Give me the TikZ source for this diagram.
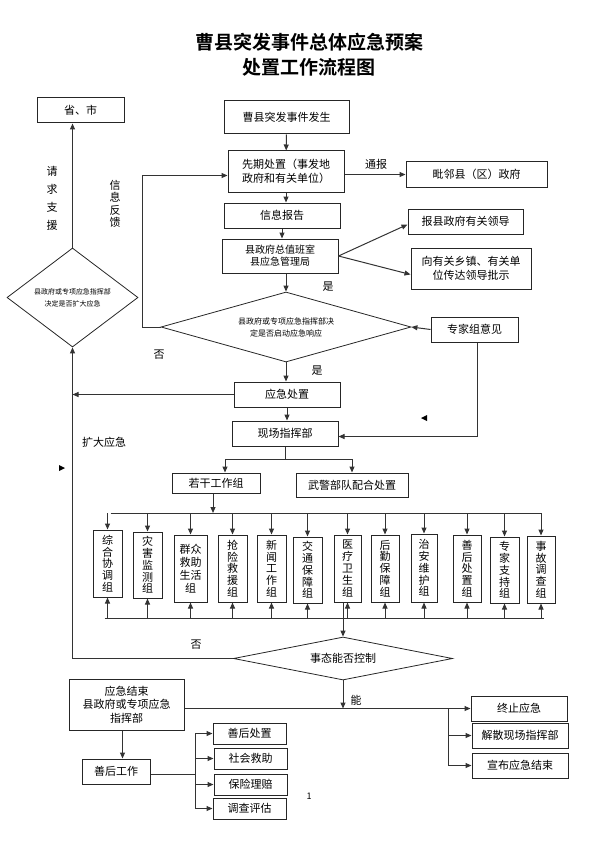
\documentclass[tikz,border=0pt]{standalone}
\usepackage{fontspec}
\setmainfont{Noto Sans CJK SC}[BoldFont={Noto Sans CJK SC Bold}]
\usetikzlibrary{shapes.geometric,arrows.meta}

\begin{document}
\begin{tikzpicture}[x=1pt,y=-1pt,
		box/.style={draw=black!85,line width=1pt,inner sep=1pt,align=center,font=\fontsize{11}{13.5}\selectfont},
		vbox/.style={box,font=\fontsize{11}{11.8}\selectfont},
		choice/.style={draw=black!85,line width=0.8pt,shape=diamond,inner sep=0pt,align=center},
		lbl/.style={font=\fontsize{11}{13}\selectfont},
		arr/.style={-{Triangle[length=6pt,width=5pt]},line width=1pt,draw=black!80},
		ln/.style={line width=1pt,draw=black!80}]
			\useasboundingbox (0,0) rectangle (592,845);

			% title
			\node[font=\bfseries\fontsize{19}{22}\selectfont] (title1) at (309,42) {曹县突发事件总体应急预案};
			\node[font=\bfseries\fontsize{19}{22}\selectfont] (title2) at (309,67) {处置工作流程图};

			% upper part
			\node[box,minimum width=87pt,minimum height=25pt] (sheng) at (80.5,110.5) {省、市};
			\node[box,minimum width=125pt,minimum height=33pt] (start) at (286.5,117.5) {曹县突发事件发生};
			\node[box,minimum width=116pt,minimum height=41pt] (pre) at (286,171.5) {先期处置（事发地\\政府和有关单位）};
			\node[box,minimum width=141pt,minimum height=25pt] (nbr) at (476.5,174.5) {毗邻县（区）政府};
			\node[box,minimum width=116pt,minimum height=25pt] (report) at (282,215.5) {信息报告};
			\node[box,minimum width=116pt,minimum height=34pt,font=\fontsize{10}{12}\selectfont] (duty) at (280,256) {县政府总值班室\\县应急管理局};
			\node[box,minimum width=115pt,minimum height=25pt] (lead) at (465.5,221.5) {报县政府有关领导};
			\node[box,minimum width=120pt,minimum height=41pt] (town) at (471,268.5) {向有关乡镇、有关单\\位传达领导批示};
			\node[choice,minimum width=250pt,minimum height=70pt,aspect=3.57,font=\fontsize{8}{12}\selectfont] (dec) at (286,327) {县政府或专项应急指挥部决\\定是否启动应急响应};
			\node[choice,minimum width=131pt,minimum height=99pt,aspect=1.32,font=\fontsize{7}{12}\selectfont] (expand) at (72.5,297.5) {县政府或专项应急指挥部\\决定是否扩大应急};
			\node[box,minimum width=87pt,minimum height=25pt] (expert) at (474.5,329.5) {专家组意见};
			\node[box,minimum width=106pt,minimum height=25pt] (respond) at (287,394.5) {应急处置};
			\node[box,minimum width=106pt,minimum height=25pt] (field) at (285,433.5) {现场指挥部};
			\node[box,minimum width=88pt,minimum height=20pt] (groups) at (216,483) {若干工作组};
			\node[box,minimum width=112pt,minimum height=24pt] (armed) at (352,485) {武警部队配合处置};

			% working groups
			\node[vbox,minimum width=29pt,minimum height=67pt] (g1) at (107.5,563.5) {综\\合\\协\\调\\组};
			\node[vbox,minimum width=29pt,minimum height=66pt] (g2) at (147.5,565) {灾\\害\\监\\测\\组};
			\node[vbox,minimum width=33pt,minimum height=67pt,font=\fontsize{11}{13}\selectfont] (g3) at (190.5,568.5) {群众\\救助\\生活\\组};
			\node[vbox,minimum width=29pt,minimum height=67pt] (g4) at (232.5,568.5) {抢\\险\\救\\援\\组};
			\node[vbox,minimum width=29pt,minimum height=67pt] (g5) at (271.5,568.5) {新\\闻\\工\\作\\组};
			\node[vbox,minimum width=29pt,minimum height=66pt] (g6) at (307.5,570) {交\\通\\保\\障\\组};
			\node[vbox,minimum width=27pt,minimum height=67pt] (g7) at (347.5,568.5) {医\\疗\\卫\\生\\组};
			\node[vbox,minimum width=28pt,minimum height=67pt] (g8) at (385,568.5) {后\\勤\\保\\障\\组};
			\node[vbox,minimum width=26pt,minimum height=68pt] (g9) at (424,568) {治\\安\\维\\护\\组};
			\node[vbox,minimum width=28pt,minimum height=67pt] (g10) at (467,568.5) {善\\后\\处\\置\\组};
			\node[vbox,minimum width=29pt,minimum height=66pt] (g11) at (504.5,570) {专\\家\\支\\持\\组};
			\node[vbox,minimum width=28pt,minimum height=67pt] (g12) at (541,569.5) {事\\故\\调\\查\\组};

			% lower part
			\node[choice,minimum width=219pt,minimum height=43pt,aspect=5,font=\fontsize{11}{13}\selectfont] (ctrl) at (343,658.5) {事态能否控制};
			\node[box,minimum width=115pt,minimum height=51pt] (finish) at (126.5,704.5) {应急结束\\县政府或专项应急\\指挥部};
			\node[box,minimum width=96pt,minimum height=25pt] (stop) at (519,708.5) {终止应急};
			\node[box,minimum width=96pt,minimum height=25pt] (dissolve) at (520,735.5) {解散现场指挥部};
			\node[box,minimum width=96pt,minimum height=25pt] (announce) at (520,765.5) {宣布应急结束};
			\node[box,minimum width=68pt,minimum height=25pt] (after) at (116,771.5) {善后工作};
			\node[box,minimum width=73pt,minimum height=21pt] (a1) at (249.5,733.5) {善后处置};
			\node[box,minimum width=73pt,minimum height=21pt] (a2) at (250.5,758.5) {社会救助};
			\node[box,minimum width=73pt,minimum height=21pt] (a3) at (250.5,784.5) {保险理赔};
			\node[box,minimum width=73pt,minimum height=21pt] (a4) at (249.5,808.5) {调查评估};

			% labels
			\node[lbl,align=center,font=\fontsize{11}{18}\selectfont] (askhelp) at (52,198) {请\\求\\支\\援};
			\node[lbl,align=center,font=\fontsize{11}{12.5}\selectfont] (feedback) at (115,204) {信\\息\\反\\馈};
			\node[lbl] (notify) at (376,164) {通报};
			\node[lbl] (yes1) at (328,287) {是};
			\node[lbl] (no1) at (159,355) {否};
			\node[lbl] (yes2) at (317,371) {是};
			\node[lbl] (widen) at (104,442) {扩大应急};
			\node[lbl] (no2) at (196,645) {否};
			\node[lbl] (can) at (356,700) {能};
			\node[font=\fontsize{9}{11}\selectfont] (page) at (309,796) {1};

			% connectors, upper part
			\draw[arr] (expand.north) -- (expand.north |- sheng.south);
			\draw[arr] (start) -- (pre);
			\draw[arr] (pre.east |- nbr.west) -- (nbr.west);
			\draw[arr] (dec.west) -- ++(-18,0) |- ([yshift=-4pt]pre.west);
			\draw[arr] (pre.south) -- (pre.south |- report.north);
			\draw[arr] (report.south) -- (report.south |- duty.north);
			\draw[arr] (duty.east) -- ([yshift=-3pt]lead.west);
			\draw[arr] (duty.east) -- ([yshift=-6pt]town.west);
			\draw[arr] (dec.north |- duty.south) -- (dec.north);
			\draw[arr] (expert.west) -- (dec.east);
			\draw[arr] (dec.south) -- (dec.south |- respond.north);
			\draw[arr] (respond.west) -- (respond.west -| expand.south);
			\draw[arr] (respond.south) -- (respond.south |- field.north);
			\draw[arr] ([xshift=3pt]expert.south) |- ([yshift=-3pt]field.east);
			\draw[arr] (ctrl.west) -| (expand.south);

			% connectors to the groups
			\coordinate (fsplit) at (285,459);
			\draw[ln] (field.south) -- (fsplit);
			\draw[arr] (fsplit) -| ([xshift=9pt]groups.north);
			\draw[arr] (fsplit) -| (armed.north);
			\coordinate (topbus) at (213,513);
			\coordinate (botbus) at (213,618);
			\draw[arr] (groups.south -| topbus) -- (topbus);
			\draw[ln] ([xshift=3pt]g1.north |- topbus) -- (g12.north |- topbus);
			\draw[ln] ([xshift=-3pt]g1.south |- botbus) -- ([xshift=3pt]g12.south |- botbus);
			\foreach \g in {g1,g2,g3,g4,g5,g6,g7,g8,g9,g10,g11,g12} {
				\draw[arr] (\g.north |- topbus) -- (\g.north);
				\draw[arr] (\g.south |- botbus) -- (\g.south);
			}
			\draw[arr] (ctrl.north |- g7.south) -- (ctrl.north);

			% connectors, lower part
			\draw[arr] (ctrl.south) -- (ctrl.south |- stop.west);
			\draw[arr] (finish.east |- stop.west) -- (stop.west);
			\coordinate (brk) at (448,708.5);
			\draw[arr] (brk) |- (dissolve.west);
			\draw[arr] (brk) |- (announce.west);
			\draw[arr] ([xshift=-4pt]finish.south) -- ([xshift=-4pt]finish.south |- after.north);
			\coordinate (ak) at (195,774);
			\draw[ln] (after.east |- ak) -- (ak);
			\draw[ln] (ak |- a1.west) -- (ak |- a4.west);
			\foreach \a in {a1,a2,a3,a4}
				\draw[arr] (ak |- \a.west) -- (\a.west);

			% loose arrow tips
			\fill[black] (421,418) -- (427,415) -- (427,421) -- cycle;
			\fill[black] (65,468) -- (59,465) -- (59,471) -- cycle;
			\end{tikzpicture}
\end{document}
